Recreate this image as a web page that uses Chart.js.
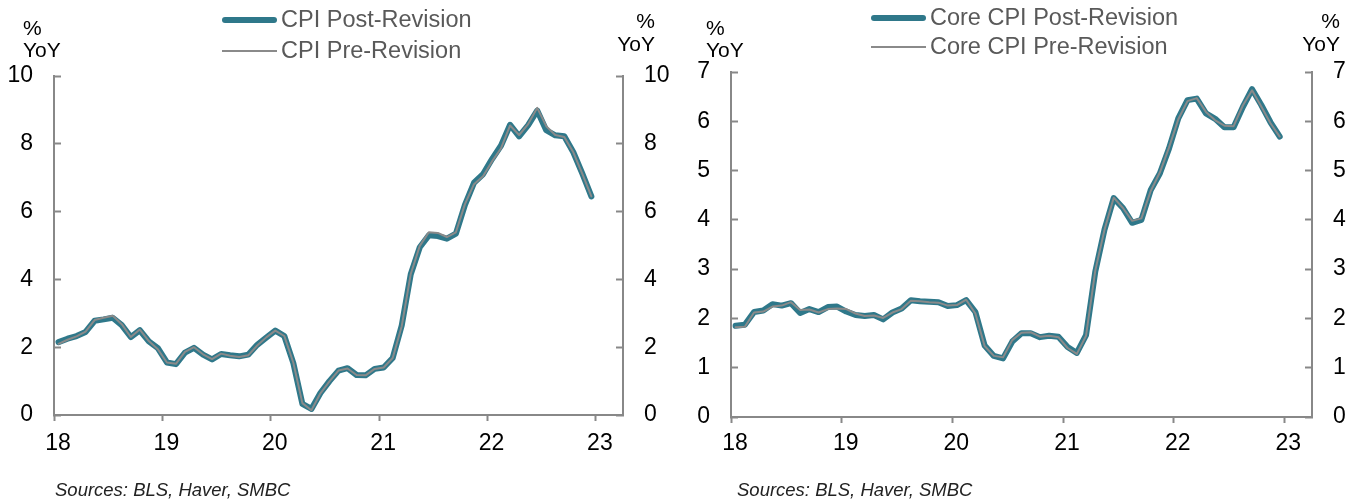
<!DOCTYPE html>
<html lang="en">
<head>
  <meta charset="UTF-8">
  <title>CPI and Core CPI - Post vs Pre Revision</title>
  <style>
    body {
      margin: 0;
      padding: 0;
      background: #fff;
      font-family: "Liberation Sans", Arial, sans-serif;
      overflow: hidden;
    }

    #wrap {
      position: relative;
      width: 1359px;
      height: 501px;
    }

    canvas {
      position: absolute;
      top: 0;
    }

    .txt {
      position: absolute;
      white-space: nowrap;
      line-height: 1;
    }

    /* legend rows */
    .leg {
      font-size: 23.5px;
      color: #595959;
    }
    .leg .mark {
      position: absolute;
      left: -59px;
      width: 55px;
      top: 50%;
    }
    .leg .post {
      height: 6px;
      margin-top: -3px;
      border-radius: 3px;
      background: #2f788a;
    }
    .leg .pre {
      height: 2px;
      margin-top: -1px;
      background: #8a8a8a;
    }

    /* axis titles */
    .unit {
      font-size: 21px;
      color: #000;
    }
    .unit.r {
      text-align: right;
    }

    .src {
      font-size: 18.5px;
      font-style: italic;
      color: #222;
    }
  </style>
  <script src="https://cdn.jsdelivr.net/npm/chart.js"></script>
</head>
<body>
  <div id="wrap">
    <canvas id="cpi" width="680" height="501" style="left:0"></canvas>
    <canvas id="core" width="679" height="501" style="left:680px"></canvas>
  </div>

  <script>
    // ---- data (YoY %, monthly Jan 2018 - Dec 2022) ----
    const years = [2018, 2019, 2020, 2021, 2022];
    const xTickLabels = [18, 19, 20, 21, 22, 23];
    const cpiTicks = [0, 2, 4, 6, 8, 10];
    const coreTicks = [0, 1, 2, 3, 4, 5, 6, 7];

    const cpiLabels = ['CPI Post-Revision', 'CPI Pre-Revision'];
    const coreLabels = ['Core CPI Post-Revision', 'Core CPI Pre-Revision'];

    const cpiPost = [
      2.15, 2.25, 2.33, 2.45, 2.78, 2.82, 2.87, 2.65, 2.30, 2.50, 2.17, 1.97,
      1.55, 1.50, 1.84, 1.98, 1.78, 1.64, 1.80, 1.76, 1.73, 1.78, 2.07, 2.28,
      2.49, 2.33, 1.53, 0.33, 0.18, 0.65, 1.00, 1.31, 1.38, 1.18, 1.17, 1.36,
      1.40, 1.68, 2.64, 4.15, 4.95, 5.30, 5.28, 5.20, 5.35, 6.20, 6.85, 7.10,
      7.55, 7.95, 8.56, 8.22, 8.55, 8.98, 8.40, 8.25, 8.22, 7.75, 7.12, 6.45
    ];
    const cpiPre = [
      2.10, 2.22, 2.32, 2.46, 2.80, 2.87, 2.93, 2.68, 2.30, 2.52, 2.18, 1.94,
      1.55, 1.51, 1.86, 2.00, 1.79, 1.65, 1.81, 1.75, 1.71, 1.76, 2.05, 2.29,
      2.49, 2.33, 1.54, 0.35, 0.14, 0.64, 0.99, 1.31, 1.37, 1.18, 1.17, 1.36,
      1.40, 1.68, 2.62, 4.16, 4.99, 5.39, 5.37, 5.25, 5.39, 6.22, 6.81, 7.04,
      7.48, 7.87, 8.54, 8.26, 8.58, 9.06, 8.52, 8.26, 8.20, 7.75, 7.11, 6.45
    ];

    const corePost = [
      1.85, 1.87, 2.13, 2.16, 2.29, 2.26, 2.31, 2.11, 2.19, 2.13, 2.23, 2.24,
      2.14, 2.07, 2.05, 2.07, 1.98, 2.12, 2.20, 2.37, 2.35, 2.34, 2.33, 2.25,
      2.27, 2.37, 2.13, 1.45, 1.24, 1.19, 1.53, 1.70, 1.70, 1.62, 1.65, 1.63,
      1.42, 1.30, 1.66, 2.95, 3.80, 4.44, 4.24, 3.94, 4.00, 4.60, 4.94, 5.45,
      6.06, 6.43, 6.46, 6.16, 6.05, 5.88, 5.88, 6.29, 6.65, 6.33, 5.98, 5.69
    ];
    const corePre = [
      1.82, 1.83, 2.12, 2.14, 2.24, 2.26, 2.33, 2.17, 2.18, 2.12, 2.19, 2.20,
      2.19, 2.10, 2.05, 2.06, 2.01, 2.12, 2.19, 2.36, 2.35, 2.33, 2.32, 2.26,
      2.27, 2.38, 2.10, 1.44, 1.24, 1.21, 1.56, 1.71, 1.72, 1.63, 1.65, 1.62,
      1.40, 1.28, 1.65, 2.97, 3.80, 4.45, 4.24, 3.98, 4.03, 4.58, 4.96, 5.47,
      6.04, 6.41, 6.47, 6.19, 6.02, 5.91, 5.90, 6.32, 6.63, 6.30, 5.96, 5.69
    ];

    // month positions on a "two digit year" axis, plotted mid-month
    const months = [];
    years.forEach(function (y) {
      for (let m = 0; m < 12; m++) months.push((y - 2000) + (m + 0.5) / 12);
    });

    const TEAL = '#2f788a';
    const GREY = '#8a8a8a';
    const AXIS = '#888888';

    function toPoints(values) {
      return values.map(function (v, i) { return { x: months[i], y: v }; });
    }

    function yScale(position, ticks, width) {
      return {
        type: 'linear',
        position: position,
        min: ticks[0],
        max: ticks[ticks.length - 1],
        afterBuildTicks: function (s) { s.ticks = ticks.map(function (v) { return { value: v }; }); },
        afterFit: function (s) { s.width = width; },
        border: { color: AXIS, width: 2 },
        grid: { drawOnChartArea: false, tickLength: -7, tickColor: AXIS, tickWidth: 2 },
        ticks: {
          color: '#000',
          padding: 28,
          font: { family: 'Liberation Sans', size: 23 }
        }
      };
    }

    function makeChart(id, labels, post, pre, ticks, box) {
      const ctx = document.getElementById(id).getContext('2d');
      return new Chart(ctx, {
        type: 'line',
        data: {
          datasets: [
            {
              label: labels[0],
              data: toPoints(post),
              borderColor: TEAL,
              borderWidth: 6,
              order: 2
            },
            {
              label: labels[1],
              data: toPoints(pre),
              borderColor: GREY,
              borderWidth: 2,
              order: 1
            }
          ]
        },
        options: {
          responsive: false,
          animation: false,
          devicePixelRatio: 1,
          layout: { padding: { top: box.top, left: 0, right: 0, bottom: 0 } },
          elements: {
            point: { radius: 0 },
            line: { tension: 0, borderJoinStyle: 'round', borderCapStyle: 'round', fill: false }
          },
          plugins: { legend: { display: false }, tooltip: { enabled: false } },
          scales: {
            x: {
              type: 'linear',
              min: 18,
              max: 23.25,
              afterBuildTicks: function (s) { s.ticks = xTickLabels.map(function (v) { return { value: v }; }); },
              afterFit: function (s) { s.height = box.xh; },
              border: { color: AXIS, width: 2 },
              grid: { drawOnChartArea: false, tickLength: 6, tickColor: AXIS, tickWidth: 2 },
              ticks: {
                color: '#000',
                padding: box.xpad,
                labelOffset: 4,
                maxRotation: 0,
                font: { family: 'Liberation Sans', size: 23 }
              }
            },
            y: yScale('left', ticks, box.left),
            y2: yScale('right', ticks, box.right)
          }
        }
      });
    }

    makeChart('cpi', cpiLabels, cpiPost, cpiPre, cpiTicks, { top: 76, xh: 86, xpad: 9, left: 54, right: 57 });
    makeChart('core', coreLabels, corePost, corePre, coreTicks, { top: 72, xh: 84, xpad: 7, left: 51, right: 47 });

    // ---- html text: legends, unit titles, sources ----
    const wrap = document.getElementById('wrap');
    function addText(cls, html, css) {
      const d = document.createElement('div');
      d.className = 'txt ' + cls;
      d.innerHTML = html;
      Object.assign(d.style, css);
      wrap.appendChild(d);
      return d;
    }

    // legends
    addText('leg', '<span class="mark post"></span>' + cpiLabels[0], { left: '281px', top: '8px' });
    addText('leg', '<span class="mark pre"></span>' + cpiLabels[1], { left: '281px', top: '39px' });
    addText('leg', '<span class="mark post"></span>' + coreLabels[0], { left: '930px', top: '6px' });
    addText('leg', '<span class="mark pre"></span>' + coreLabels[1], { left: '930px', top: '35px' });

    // unit titles
    addText('unit', '%<br>YoY', { left: '23px', top: '17px', lineHeight: '22px' });
    addText('unit r', '%<br>YoY', { right: (1359 - 655) + 'px', top: '9px', lineHeight: '23px' });
    addText('unit', '%<br>YoY', { left: '706px', top: '17px', lineHeight: '22px' });
    addText('unit r', '%<br>YoY', { right: (1359 - 1340) + 'px', top: '9px', lineHeight: '23px' });

    // sources
    addText('src', 'Sources: BLS, Haver, SMBC', { left: '55px', top: '481px' });
    addText('src', 'Sources: BLS, Haver, SMBC', { left: '737px', top: '481px' });
  </script>
</body>
</html>
